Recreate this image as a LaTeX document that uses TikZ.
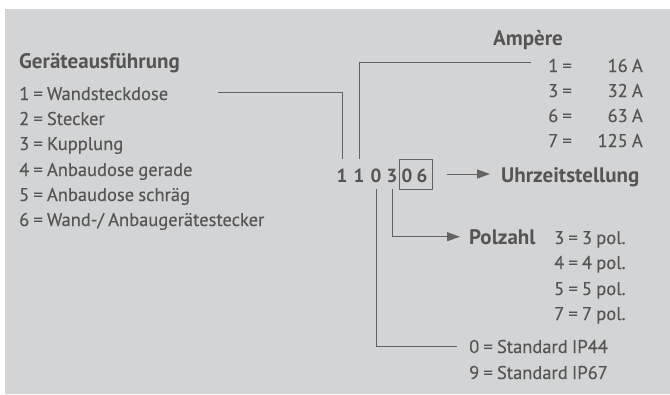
\documentclass[tikz,border=0pt]{standalone}
\usepackage{fontspec}
\setmainfont[FakeBold=0.25, WordSpace=0.85, BoldFont={* Bold}, BoldFeatures={FakeBold=0}]{PT Sans}
\usetikzlibrary{positioning, arrows.meta}
\definecolor{panel}{HTML}{D3D4D6}
\definecolor{ink}{HTML}{555555}
\definecolor{wire}{HTML}{636363}
\tikzset{
  every node/.style = {text=ink, inner sep=0pt, font=\fontsize{18.5}{20}\selectfont},
  cdtxt/.style  = {anchor=base west},
  cdval/.style  = {anchor=base east},
  cdhead/.style = {anchor=base west, font=\fontsize{21}{24}\selectfont\bfseries},
  cdnum/.style  = {anchor=base, font=\fontsize{19}{22}\selectfont\bfseries},
  cdbox/.style  = {draw=wire, line width=1pt, minimum width=33pt, minimum height=30pt},
  cdline/.style = {draw=wire, line width=1pt},
  cdgo/.style   = {cdline, -{Triangle[length=13pt,width=9pt]}},
}

\begin{document}
\begin{tikzpicture}[x=1pt,y=-1pt]
\useasboundingbox (0,0) rectangle (670,394);
\fill[panel] (5,9) rectangle (670,394);

% Geraeteausfuehrung
\node[cdhead] (gerhd) at (19,68) {Geräteausführung};
\node[cdtxt] (g1) at (19,100) {1 = Wandsteckdose};
\node[cdtxt] (g2) at (19,125) {2 = Stecker};
\node[cdtxt] (g3) at (19,150) {3 = Kupplung};
\node[cdtxt] (g4) at (19,176) {4 = Anbaudose gerade};
\node[cdtxt] (g5) at (19,201) {5 = Anbaudose schräg};
\node[cdtxt] (g6) at (19,226) {6 = Wand-/ Anbaugerätestecker};

% Ampere
\node[cdhead] (amphd) at (493,45) {Ampère};
\node[cdtxt] (a1) at (548,72)  {1 =};
\node[cdtxt] (a3) at (548,97)  {3 =};
\node[cdtxt] (a6) at (548,122) {6 =};
\node[cdtxt] (a7) at (548,147) {7 =};
\node[cdval] (v1) at (643,72)  {16 A};
\node[cdval] (v3) at (643,97)  {32 A};
\node[cdval] (v6) at (643,122) {63 A};
\node[cdval] (v7) at (643,147) {125 A};

% code
\foreach \d/\x [count=\i] in {1/342,1/359,0/376,3/392,0/407,6/422}
  \node[cdnum] (d\i) at (\x,182) {\d};
\node[cdbox] (box) at (415.5,174) {};
\node[cdhead] (uhr) at (501,182) {Uhrzeitstellung};

% Polzahl
\node[cdhead] (pol) at (469,244) {Polzahl};
\node[cdtxt] (p3) at (554,244) {3 = 3 pol.};
\node[cdtxt] (p4) at (554,269) {4 = 4 pol.};
\node[cdtxt] (p5) at (554,295) {5 = 5 pol.};
\node[cdtxt] (p7) at (554,320) {7 = 7 pol.};

% Schutzart
\node[cdtxt] (ip44) at (469,353) {0 = Standard IP44};
\node[cdtxt] (ip67) at (469,379) {9 = Standard IP67};

\coordinate (wandend) at (218,92);
\coordinate (ampend) at (531,62);
\draw[cdline] (wandend) -| ([yshift=9pt]d1.north);
\draw[cdline] (ampend) -| ([yshift=9pt]d2.north);
\draw[cdgo] ([xshift=14pt]box.east) -- ([xshift=-11pt]box.east -| uhr.west);
\draw[cdgo] ([yshift=-7pt]d4.south) |- ([xshift=-9pt]pol.west);
\draw[cdline] ([yshift=-7pt]d3.south) |- ([xshift=-12pt]ip44.west);
\end{tikzpicture}
\end{document}
